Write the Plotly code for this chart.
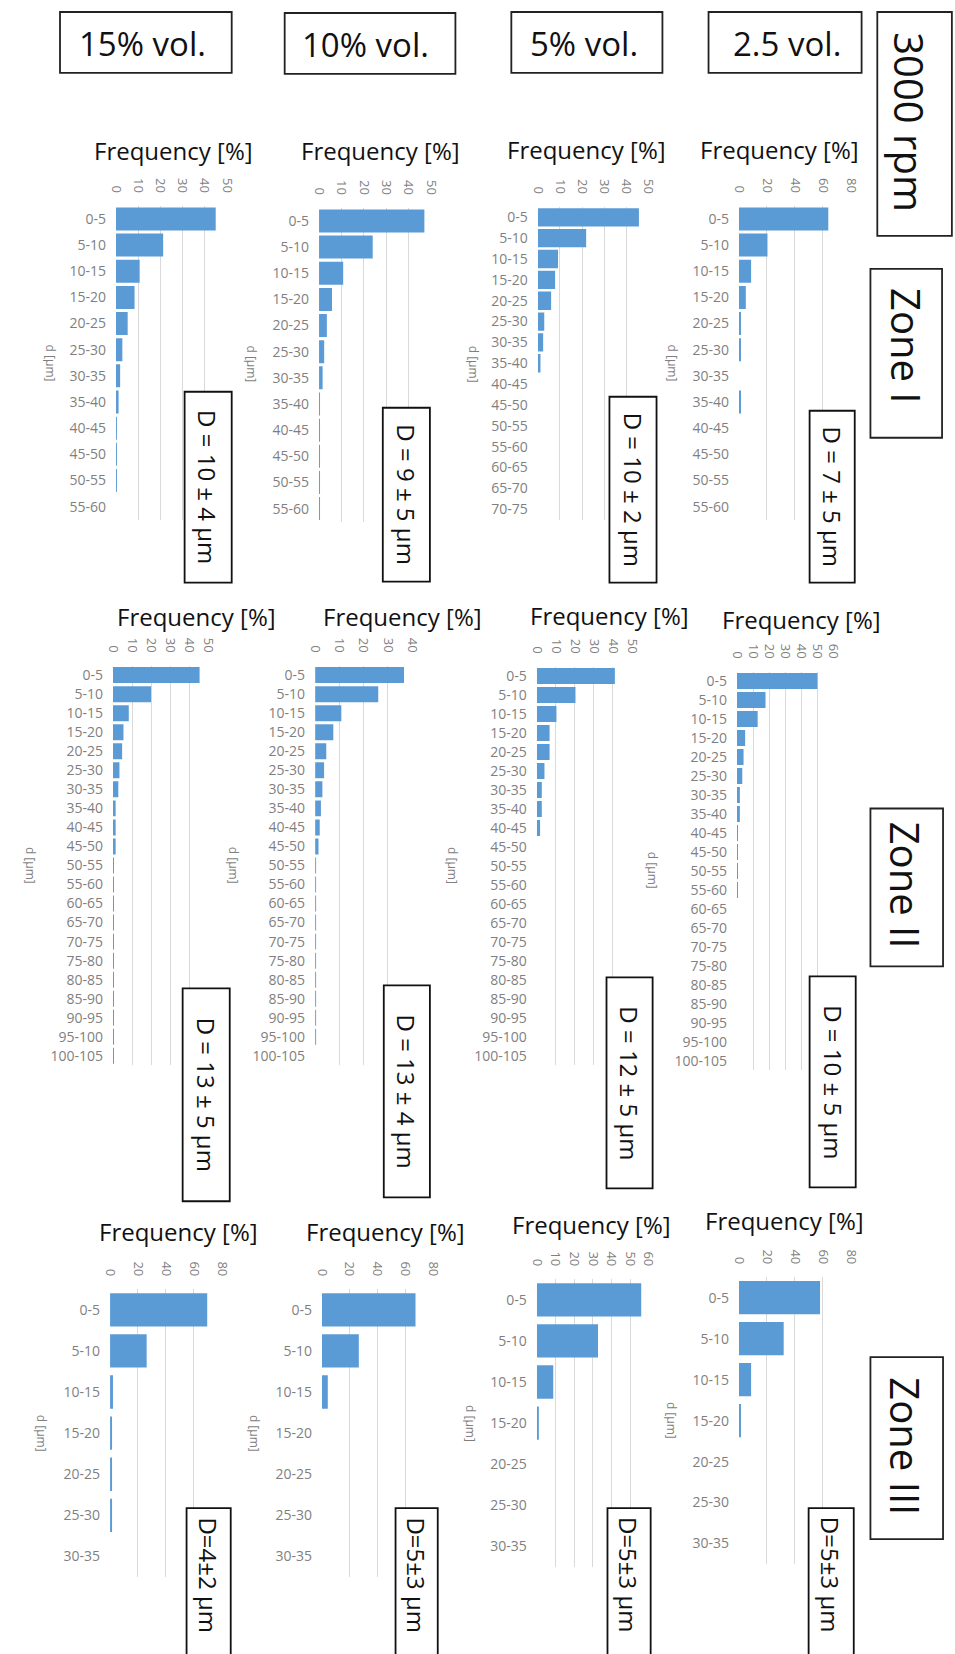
import plotly.graph_objects as go

W, H = 955, 1654
FONT = "Open Sans"
BAR_COLOR = "#5B9BD5"
GRID = "#d9d9d9"
TICK_COLOR = "#7f7f7f"

# Size classes [µm]
cats_60 = ["0-5", "5-10", "10-15", "15-20", "20-25", "25-30", "30-35", "35-40",
           "40-45", "45-50", "50-55", "55-60"]
cats_75 = cats_60 + ["60-65", "65-70", "70-75"]
cats_105 = cats_75 + ["75-80", "80-85", "85-90", "90-95", "95-100", "100-105"]
cats_35 = ["0-5", "5-10", "10-15", "15-20", "20-25", "25-30", "30-35"]

# Frequency [%] — Zone I
z1_15 = [45.0, 21.3, 10.7, 8.4, 5.3, 2.9, 1.9, 1.2, 0.4, 0.4, 0.4, 0.0]
z1_10 = [47.1, 24.0, 10.8, 5.8, 3.5, 2.3, 1.6, 0.3, 0.3, 0.3, 0.3, 0.3]
z1_5 = [45.6, 21.8, 9.1, 7.8, 6.0, 2.9, 2.4, 1.2, 0, 0, 0, 0, 0, 0, 0]
z1_25 = [63.9, 20.4, 8.7, 4.9, 1.0, 1.0, 0.0, 1.2, 0, 0, 0, 0]

# Zone II
z2_15 = [45.5, 20.0, 8.3, 5.5, 4.8, 3.4, 2.8, 1.4, 1.4, 1.4] + [0.4] * 11
z2_10 = [36.6, 26.0, 10.8, 7.5, 4.6, 3.7, 3.0, 2.4, 1.9, 1.4] + [0.4] * 10 + [0.0]
z2_5 = [41.0, 20.3, 10.3, 6.7, 6.7, 4.0, 2.6, 2.6, 1.7] + [0.0] * 12
z2_25 = [50.2, 17.8, 12.9, 5.1, 4.1, 3.3, 1.8, 1.8, 0.6, 0.6, 0.6, 0.6] + [0.0] * 9

# Zone III
z3_15 = [69.5, 26.2, 2.1, 1.0, 0.8, 0.8, 0.0]
z3_10 = [67.5, 26.6, 4.2, 0, 0, 0, 0]
z3_5 = [56.0, 32.8, 8.8, 0.9, 0, 0, 0]
z3_25 = [58.0, 32.0, 8.7, 1.2, 0, 0, 0]

col_labels = ["15% vol.", "10% vol.", "5% vol.", "2.5 vol."]
row_labels = ["Zone I", "Zone II", "Zone III"]
speed_label = "3000 rpm"
mean_labels = [
    ["D = 10 ± 4 µm", "D = 9 ± 5 µm", "D = 10 ± 2 µm", "D = 7 ± 5 µm"],
    ["D = 13 ± 5 µm", "D = 13 ± 4 µm", "D = 12 ± 5 µm", "D = 10 ± 5 µm"],
    ["D=4±2 µm", "D=5±3 µm", "D=5±3 µm", "D=5±3 µm"],
]


def px(x):
    return x / W


def py(y):
    return 1 - y / H


# panel layout in pixels: (x at 0, x at max, xmax, dtick, area top, area bottom,
#  categories, values, bar width, title centre, d-label centre, D box)
panels = [
    # Zone I
    dict(x0=110, x1=223, xmax=50, dt=10, top=205, bot=519, cats=cats_60, vals=z1_15, bw=0.88,
         title=(169, 150), dlab=(43, 362), box=(180, 228, 391, 582)),
    dict(x0=317, x1=431, xmax=50, dt=10, top=207, bot=521, cats=cats_60, vals=z1_10, bw=0.88,
         title=(380, 150), dlab=(248, 363), box=(382, 430, 407, 581)),
    dict(x0=540, x1=653, xmax=50, dt=10, top=206, bot=519, cats=cats_75, vals=z1_5, bw=0.88,
         title=(590, 149), dlab=(474, 363), box=(613, 661, 396, 582)),
    dict(x0=745, x1=859, xmax=80, dt=20, top=205, bot=519, cats=cats_60, vals=z1_25, bw=0.88,
         title=(786, 149), dlab=(677, 362), box=(817, 863, 410, 582)),
    # Zone II
    dict(x0=107, x1=204, xmax=50, dt=10, top=665, bot=1065, cats=cats_105, vals=z2_15, bw=0.84,
         title=(192, 616), dlab=(23, 865), box=(178, 226, 988, 1201)),
    dict(x0=313, x1=412, xmax=40, dt=10, top=665, bot=1065, cats=cats_105, vals=z2_10, bw=0.84,
         title=(402, 616), dlab=(230, 865), box=(383, 430, 985, 1197)),
    dict(x0=539, x1=636, xmax=50, dt=10, top=666, bot=1065, cats=cats_105, vals=z2_5, bw=0.84,
         title=(613, 615), dlab=(453, 865), box=(610, 657, 977, 1188)),
    dict(x0=743, x1=841, xmax=60, dt=10, top=671, bot=1070, cats=cats_105, vals=z2_25, bw=0.84,
         title=(809, 619), dlab=(657, 870), box=(817, 864, 976, 1187)),
    # Zone III
    dict(x0=104, x1=218, xmax=80, dt=20, top=1289, bot=1577, cats=cats_35, vals=z3_15, bw=0.81,
         title=(174, 1231), dlab=(35, 1433), box=(182, 227, 1508, 1670)),
    dict(x0=320, x1=433, xmax=80, dt=20, top=1289, bot=1577, cats=cats_35, vals=z3_10, bw=0.81,
         title=(385, 1231), dlab=(252, 1433), box=(395, 438, 1508, 1670)),
    dict(x0=539, x1=653, xmax=60, dt=10, top=1279, bot=1567, cats=cats_35, vals=z3_5, bw=0.81,
         title=(595, 1224), dlab=(472, 1423), box=(611, 655, 1508, 1670)),
    dict(x0=745, x1=859, xmax=80, dt=20, top=1277, bot=1564, cats=cats_35, vals=z3_25, bw=0.81,
         title=(791, 1220), dlab=(677, 1420), box=(816, 862, 1508, 1670)),
]

fig = go.Figure()
layout = dict(
    width=W, height=H, margin=dict(l=0, r=0, t=0, b=0),
    paper_bgcolor="white", plot_bgcolor="white", showlegend=False,
    font=dict(family=FONT, color="#111111"),
)
shapes = []
annotations = []

for i, p in enumerate(panels):
    n = i + 1
    xa = "x" if n == 1 else f"x{n}"
    ya = "y" if n == 1 else f"y{n}"
    fig.add_trace(go.Bar(
        x=p["vals"], y=p["cats"], orientation="h", xaxis=xa, yaxis=ya,
        width=p["bw"], marker=dict(color=BAR_COLOR, line=dict(width=0)),
        hoverinfo="x+y",
    ))
    layout["xaxis" if n == 1 else f"xaxis{n}"] = dict(
        domain=[px(p["x0"]), px(p["x1"])], range=[0, p["xmax"]], anchor=ya,
        side="top", dtick=p["dt"], tick0=0, tickangle=90,
        tickfont=dict(size=13, color=TICK_COLOR, family=FONT),
        showgrid=True, gridcolor=GRID, gridwidth=1, zeroline=False,
        showline=False, ticks="", ticklabelstandoff=10, fixedrange=True,
    )
    layout["yaxis" if n == 1 else f"yaxis{n}"] = dict(
        domain=[py(p["bot"]), py(p["top"])], anchor=xa, type="category",
        categoryorder="array", categoryarray=p["cats"], autorange="reversed",
        tickfont=dict(size=14, color=TICK_COLOR, family=FONT),
        showgrid=False, zeroline=False, showline=False, ticks="",
        ticklabelstandoff=9, fixedrange=True,
    )
    # chart title and category axis title
    annotations.append(dict(
        text="Frequency [%]", x=px(p["title"][0]), y=py(p["title"][1]),
        xref="paper", yref="paper", xanchor="center", yanchor="middle",
        showarrow=False, font=dict(size=24, color="#111111", family=FONT),
    ))
    annotations.append(dict(
        text="d [µm]", x=px(p["dlab"][0]), y=py(p["dlab"][1]),
        xref="paper", yref="paper", xanchor="center", yanchor="middle",
        textangle=90, showarrow=False,
        font=dict(size=12, color=TICK_COLOR, family=FONT),
    ))
    # mean diameter box
    bx0, bx1, by0, by1 = p["box"]
    shapes.append(dict(
        type="rect", xref="paper", yref="paper",
        x0=px(bx0), x1=px(bx1), y0=py(by1), y1=py(by0),
        line=dict(color="#111111", width=1.8), fillcolor="white", layer="above",
    ))
    r, c = divmod(i, 4)
    ty = (by0 + min(by1, H)) / 2 if by1 <= H else 1575
    annotations.append(dict(
        text=mean_labels[r][c], x=px((bx0 + bx1) / 2), y=py(ty),
        xref="paper", yref="paper", xanchor="center", yanchor="middle",
        textangle=90, showarrow=False,
        font=dict(size=24, color="#111111", family=FONT),
    ))

# concentration headers
head_boxes = [(53, 228, 11, 72, 70), (282, 456, 12, 73, 298),
              (513, 667, 11, 72, 530), (714, 870, 11, 72, 737)]
for lab, (x0, x1, y0, y1, tx) in zip(col_labels, head_boxes):
    shapes.append(dict(
        type="rect", xref="paper", yref="paper",
        x0=px(x0), x1=px(x1), y0=py(y1), y1=py(y0),
        line=dict(color="#222222", width=1.8), fillcolor="white", layer="above",
    ))
    annotations.append(dict(
        text=lab, x=px(tx), y=py((y0 + y1) / 2 + 1), xref="paper", yref="paper",
        xanchor="left", yanchor="middle", showarrow=False,
        font=dict(size=33, color="#111111", family=FONT),
    ))

# speed and zone labels on the right
side_boxes = [
    (speed_label, (886, 962, 11, 235), (918, 121)),
    (row_labels[0], (879, 952, 268, 437), (915, 345)),
    (row_labels[1], (879, 953, 808, 966), (915, 885)),
    (row_labels[2], (879, 953, 1357, 1539), (915, 1446)),
]
for lab, (x0, x1, y0, y1), (tx, ty) in side_boxes:
    shapes.append(dict(
        type="rect", xref="paper", yref="paper",
        x0=px(x0), x1=px(x1), y0=py(y1), y1=py(y0),
        line=dict(color="#222222", width=1.8), fillcolor="white", layer="above",
    ))
    annotations.append(dict(
        text=lab, x=px(tx), y=py(ty), xref="paper", yref="paper",
        xanchor="center", yanchor="middle", textangle=90, showarrow=False,
        font=dict(size=40, color="#111111", family=FONT),
    ))

layout["shapes"] = shapes
layout["annotations"] = annotations
fig.update_layout(**layout)
fig.write_html("out.html")
